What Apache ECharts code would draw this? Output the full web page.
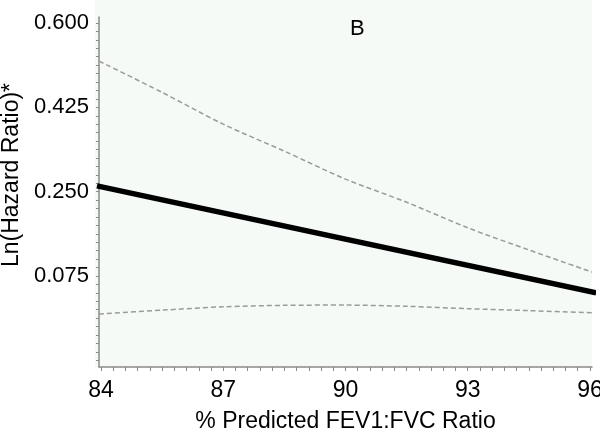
<!DOCTYPE html>
<html>
<head>
<meta charset="utf-8">
<script src="https://cdn.jsdelivr.net/npm/echarts@6/dist/echarts.min.js"></script>
<style>html,body{margin:0;padding:0;background:#fff}#c{width:600px;height:437px}</style>
</head>
<body>
<div id="c"></div>
<script>
// ---- data ----
var ciX = [83.95, 85.5, 87, 88.5, 90, 91.5, 93, 94.5, 96.05];
var upperCI = [0.521, 0.456, 0.390, 0.334, 0.276, 0.228, 0.175, 0.129, 0.083];
var lowerCI = [-0.004, 0.004, 0.011, 0.014, 0.0145, 0.012, 0.007, 0.003, -0.0015];
var estX = [83.9, 96.15];
var estimate = [0.262, 0.040];
var xTickLabels = [84, 87, 90, 93, 96];
var yTickLabels = [0.075, 0.250, 0.425, 0.600];
var xMinorStep = 0.3;
var yMinorStep = 0.0175;

function zip(xs, ys){ return xs.map(function(x,i){ return [x, ys[i]]; }); }
function stepTicks(start, end, step){
  var out = [];
  var n = Math.round((end - start) / step);
  for (var i = 0; i <= n; i++) out.push(+(start + i * step).toFixed(5));
  return out;
}
var xTicks = stepTicks(84, 96, xMinorStep);
var yTicks = stepTicks(0.075 - 10 * yMinorStep, 0.600, yMinorStep);

var FONT = '"Liberation Sans", Arial, sans-serif';
var chart = echarts.init(document.getElementById('c'), null, {renderer: 'canvas'});
chart.setOption({
  animation: false,
  backgroundColor: '#ffffff',
  title: {
    text: 'B', left: 345, top: 13,
    textStyle: {fontFamily: FONT, fontSize: 22, fontWeight: 'normal', color: '#000'}
  },
  graphic: [
    {type: 'rect', z: -10, silent: true, shape: {x: 95, y: 0, width: 497, height: 367}, style: {fill: '#f5faf7'}},
    {type: 'text', x: 12, y: 175, rotation: Math.PI / 2, silent: true,
     style: {text: 'Ln(Hazard Ratio)*', fontFamily: FONT, fontSize: 23, fill: '#000', align: 'center', verticalAlign: 'middle'}}
  ],
  grid: {left: 99, right: 8, top: 17, bottom: 70, containLabel: false, outerBoundsMode: 'none'},
  xAxis: {
    type: 'value', min: 83.95, max: 96.05,
    name: '% Predicted FEV1:FVC Ratio', nameLocation: 'middle', nameGap: 43,
    nameTextStyle: {fontFamily: FONT, fontSize: 23, color: '#000'},
    axisLine: {show: true, onZero: false, lineStyle: {color: '#8a8a8a', width: 1.5}},
    axisTick: {show: true, customValues: xTicks, length: 4, lineStyle: {color: '#8a8a8a', width: 1}},
    axisLabel: {customValues: xTickLabels, margin: 12, fontFamily: FONT, fontSize: 23, color: '#000',
      formatter: function(v){ return String(v); }},
    splitLine: {show: false}
  },
  yAxis: {
    type: 'value', min: -0.114, max: 0.6125,
    axisLine: {show: true, onZero: false, lineStyle: {color: '#8a8a8a', width: 1.5}},
    axisTick: {show: true, customValues: yTicks, length: 3, lineStyle: {color: '#8a8a8a', width: 1}},
    axisLabel: {customValues: yTickLabels, margin: 10, fontFamily: FONT, fontSize: 22, color: '#000',
      formatter: function(v){ return v.toFixed(3); }},
    splitLine: {show: false}
  },
  series: [
    {type: 'line', data: zip(ciX, upperCI), smooth: 0.3, symbol: 'none', clip: false,
     lineStyle: {color: '#9a9a9a', width: 1.5, type: [5, 3]}},
    {type: 'line', data: zip(ciX, lowerCI), smooth: 0.3, symbol: 'none', clip: false,
     lineStyle: {color: '#9a9a9a', width: 1.5, type: [5, 3]}},
    {type: 'line', data: zip(estX, estimate), symbol: 'none', clip: false,
     lineStyle: {color: '#000', width: 5.5, cap: 'butt'}}
  ]
});
</script>
</body>
</html>
